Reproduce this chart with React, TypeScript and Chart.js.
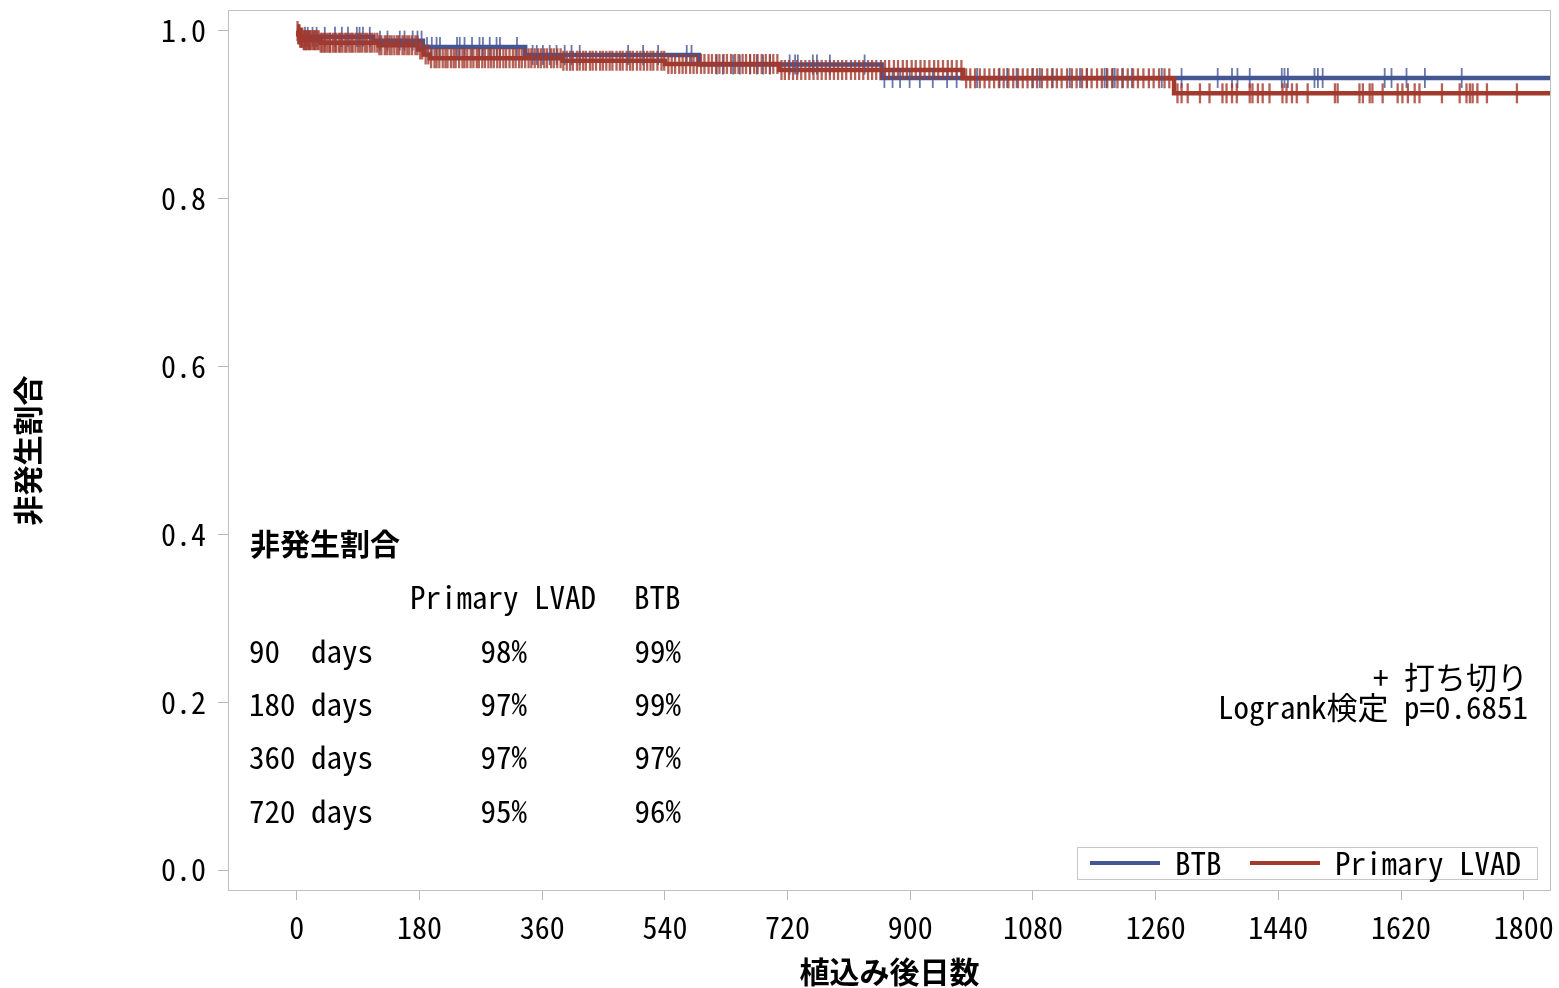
import React, { useEffect, useRef } from "react";
import { Chart, registerables } from "chart.js";

Chart.register(...registerables);

// ---- axes ----
const xTicks = [0, 180, 360, 540, 720, 900, 1080, 1260, 1440, 1620, 1800];
const yTicks = [0, 0.2, 0.4, 0.6, 0.8, 1.0];
const yTickLabels = ["0.0", "0.2", "0.4", "0.6", "0.8", "1.0"];
const X_MIN = -101;
const X_MAX = 1840;
const Y_MIN = -0.025;
const Y_MAX = 1.025;

// ---- Kaplan-Meier steps (time in days, survival after that time) ----
const btbTimes = [0, 4, 112, 185, 335, 590, 858];
const btbSurv = [1.0, 0.993, 0.9885, 0.981, 0.9714, 0.96, 0.944];

const lvadTimes = [0, 2, 5, 10, 35, 120, 178, 186, 195, 390, 540, 708, 977, 1287];
const lvadSurv = [1.0, 0.996, 0.992, 0.989, 0.986, 0.983, 0.978, 0.972, 0.9675, 0.9645, 0.9607, 0.9535, 0.9436, 0.9257];

// ---- censoring times (days) ----
const btbCensor = [12, 16, 23, 29, 41, 56, 66, 75, 88, 92, 97, 107, 122, 133, 151, 158, 170, 177, 183, 191, 198, 205, 210, 235, 239, 246, 257, 268, 273, 283, 293, 298, 323, 346, 352, 361, 371, 381, 393, 403, 415, 486, 508, 530, 572, 579, 616, 625, 640, 650, 665, 675, 684, 694, 723, 731, 735, 757, 763, 782, 833, 862, 874, 885, 899, 914, 933, 954, 968, 998, 1031, 1042, 1056, 1080, 1090, 1109, 1134, 1149, 1159, 1185, 1188, 1197, 1200, 1212, 1225, 1269, 1298, 1351, 1372, 1380, 1398, 1445, 1449, 1454, 1493, 1498, 1505, 1596, 1606, 1628, 1655, 1709];

const lvadCensor = [1, 2, 3, 4, 5, 6, 7, 8, 10, 11, 13, 14, 16, 18, 19, 21, 24, 26, 27, 30, 32, 35, 37, 40, 42, 45, 48, 49, 53, 56, 58, 62, 64, 67, 71, 73, 77, 80, 82, 86, 90, 93, 96, 100, 103, 107, 110, 114, 118, 121, 124, 129, 132, 136, 139, 143, 147, 150, 155, 158, 162, 165, 169, 174, 177, 181, 184, 189, 193, 197, 202, 205, 209, 214, 218, 221, 226, 230, 233, 238, 243, 246, 250, 255, 259, 264, 267, 272, 276, 281, 285, 289, 294, 298, 303, 307, 312, 317, 321, 326, 330, 335, 340, 344, 349, 354, 358, 363, 367, 373, 377, 382, 387, 391, 396, 401, 405, 411, 415, 420, 424, 430, 434, 439, 445, 449, 454, 459, 463, 469, 474, 478, 484, 489, 493, 499, 504, 509, 514, 519, 523, 529, 535, 539, 545, 550, 555, 561, 566, 571, 577, 582, 587, 593, 598, 604, 609, 615, 620, 626, 631, 637, 643, 648, 654, 659, 665, 671, 676, 682, 688, 694, 699, 705, 711, 716, 722, 728, 734, 740, 746, 752, 758, 764, 770, 776, 782, 788, 794, 800, 806, 813, 819, 825, 831, 838, 844, 850, 857, 863, 869, 876, 882, 889, 895, 902, 908, 915, 921, 928, 935, 941, 948, 955, 961, 968, 975, 982, 988, 995, 1002, 1009, 1016, 1023, 1030, 1037, 1044, 1051, 1058, 1065, 1072, 1079, 1086, 1093, 1101, 1108, 1115, 1122, 1130, 1137, 1144, 1152, 1159, 1166, 1174, 1181, 1189, 1196, 1204, 1211, 1219, 1227, 1234, 1242, 1250, 1257, 1265, 1273, 1280, 1292, 1298, 1307, 1325, 1339, 1358, 1364, 1372, 1379, 1398, 1402, 1410, 1417, 1427, 1446, 1452, 1460, 1467, 1483, 1523, 1527, 1559, 1564, 1574, 1578, 1593, 1615, 1622, 1630, 1640, 1647, 1680, 1706, 1716, 1721, 1725, 1732, 1746, 1790];

// ---- inset table ----
const tableTitle = "非発生割合";
const tableGroups = ["Primary LVAD", "BTB"];
const tableDays = [90, 180, 360, 720];
const tableLvad = [98, 97, 97, 95];
const tableBtb = [99, 99, 97, 96];

const seriesNames = ["BTB", "Primary LVAD"];
const BLUE = "#445694";
const RED = "#A23A2E";

const MONO = '"Noto Sans Mono CJK JP", "Noto Sans CJK JP", "Liberation Mono", monospace';
const CJK = '"Noto Sans CJK JP", sans-serif';

function kmAt(times: number[], surv: number[], t: number) {
  let v = surv[0];
  for (let i = 0; i < times.length; i++) {
    if (times[i] <= t) v = surv[i];
  }
  return v;
}

function stepPoints(times: number[], surv: number[]) {
  const pts = times.map((t, i) => ({ x: t, y: surv[i] }));
  pts.push({ x: X_MAX, y: surv[surv.length - 1] });
  return pts;
}

const overlay = {
  id: "overlay",
  afterDraw(chart: any) {
    const ctx = chart.ctx;
    const a = chart.chartArea;
    ctx.save();
    // frame
    ctx.strokeStyle = "#c0c0c0";
    ctx.lineWidth = 1;
    ctx.strokeRect(Math.round(a.left) + 0.5, Math.round(a.top) + 0.5, Math.round(a.right - a.left) - 1, Math.round(a.bottom - a.top) - 1);

    // axis titles
    ctx.fillStyle = "#000";
    ctx.font = `bold 30px ${CJK}`;
    ctx.textAlign = "center";
    ctx.textBaseline = "middle";
    ctx.fillText("植込み後日数", (a.left + a.right) / 2, 972);
    ctx.save();
    ctx.translate(28, (a.top + a.bottom) / 2);
    ctx.rotate(-Math.PI / 2);
    ctx.fillText("非発生割合", 0, 0);
    ctx.restore();

    // table
    ctx.textAlign = "left";
    ctx.font = `bold 30px ${CJK}`;
    ctx.fillText(tableTitle, 250, 544);
    ctx.font = `31px ${MONO}`;
    ctx.fillText(tableGroups[0], 410, 597);
    ctx.fillText(tableGroups[1], 634, 597);
    const rowY = [651, 704, 757, 811];
    tableDays.forEach((d, i) => {
      ctx.textAlign = "left";
      ctx.fillText(String(d), 249, rowY[i]);
      ctx.fillText("days", 311, rowY[i]);
      ctx.textAlign = "right";
      ctx.fillText(tableLvad[i] + "%", 527, rowY[i]);
      ctx.fillText(tableBtb[i] + "%", 681, rowY[i]);
    });

    // censor note and logrank
    ctx.textAlign = "right";
    ctx.fillText("+ 打ち切り", 1528, 677);
    ctx.fillText("Logrank検定 p=0.6851", 1528, 707);

    // legend
    ctx.strokeStyle = "#c8c8c8";
    ctx.lineWidth = 1;
    ctx.strokeRect(1077.5, 847.5, 460, 32);
    ctx.lineWidth = 4;
    ctx.strokeStyle = BLUE;
    ctx.beginPath();
    ctx.moveTo(1090, 863);
    ctx.lineTo(1160, 863);
    ctx.stroke();
    ctx.strokeStyle = RED;
    ctx.beginPath();
    ctx.moveTo(1250, 863);
    ctx.lineTo(1320, 863);
    ctx.stroke();
    ctx.textAlign = "left";
    ctx.fillStyle = "#000";
    ctx.fillText(seriesNames[0], 1175, 863);
    ctx.fillText(seriesNames[1], 1335, 863);
    ctx.restore();
  },
};

function zeroPad(s: any) {
  s.paddingTop = 0;
  s.paddingBottom = 0;
  s.paddingLeft = 0;
  s.paddingRight = 0;
}

export default function App() {
  const ref = useRef<HTMLCanvasElement | null>(null);

  useEffect(() => {
    if (!ref.current) return;
    const tickFont = { family: MONO, size: 30 };
    const chart = new Chart(ref.current, {
      type: "line",
      data: {
        datasets: [
          {
            label: seriesNames[0],
            data: stepPoints(btbTimes, btbSurv),
            borderColor: BLUE,
            borderWidth: 4.5,
            stepped: "before",
            pointRadius: 0,
            fill: false,
            order: 4,
          },
          {
            label: seriesNames[1],
            data: stepPoints(lvadTimes, lvadSurv),
            borderColor: RED,
            borderWidth: 4.5,
            stepped: "before",
            pointRadius: 0,
            fill: false,
            order: 3,
          },
          {
            label: seriesNames[0] + " censored",
            data: btbCensor.map((t) => ({ x: t, y: kmAt(btbTimes, btbSurv, t) })),
            showLine: false,
            pointStyle: "line",
            rotation: 90,
            pointRadius: 10,
            borderWidth: 1.8,
            borderColor: "rgba(68,86,148,0.8)",
            backgroundColor: "rgba(68,86,148,0.8)",
            order: 2,
          },
          {
            label: seriesNames[1] + " censored",
            data: lvadCensor.map((t) => ({ x: t, y: kmAt(lvadTimes, lvadSurv, t) })),
            showLine: false,
            pointStyle: "line",
            rotation: 90,
            pointRadius: 10,
            borderWidth: 2.3,
            borderColor: "rgba(162,58,46,0.8)",
            backgroundColor: "rgba(162,58,46,0.8)",
            order: 1,
          },
        ] as any,
      },
      options: {
        animation: false,
        responsive: false,
        devicePixelRatio: 1,
        layout: { autoPadding: false, padding: { top: 10, right: 8, left: 0, bottom: 0 } },
        plugins: { legend: { display: false }, tooltip: { enabled: false } },
        scales: {
          x: {
            type: "linear",
            min: X_MIN,
            max: X_MAX,
            afterBuildTicks: (s: any) => {
              s.ticks = xTicks.map((v) => ({ value: v }));
            },
            afterFit: (s: any) => {
              s.height = 97;
              zeroPad(s);
            },
            ticks: {
              font: tickFont,
              color: "#000",
              padding: 10,
              maxRotation: 0,
              autoSkip: false,
              callback: (v: any) => String(v),
            },
            grid: { drawOnChartArea: false, drawTicks: true, tickLength: 9, color: "#b8b8b8" },
            border: { display: false },
          },
          y: {
            type: "linear",
            min: Y_MIN,
            max: Y_MAX,
            afterBuildTicks: (s: any) => {
              s.ticks = yTicks.map((v) => ({ value: v }));
            },
            afterFit: (s: any) => {
              s.width = 228;
              zeroPad(s);
            },
            ticks: {
              font: tickFont,
              color: "#000",
              padding: 12,
              callback: (v: any) => {
                const i = yTicks.findIndex((t) => Math.abs(t - v) < 1e-9);
                return i >= 0 ? yTickLabels[i] : "";
              },
            },
            grid: { drawOnChartArea: false, drawTicks: true, tickLength: 10, color: "#b8b8b8" },
            border: { display: false },
          },
        },
      } as any,
      plugins: [overlay],
    });
    return () => chart.destroy();
  }, []);

  return (
    <div style={{ position: "absolute", left: 0, top: 0, width: 1559, height: 988, background: "#fff" }}>
      <canvas ref={ref} width={1559} height={988} style={{ display: "block" }} />
    </div>
  );
}
